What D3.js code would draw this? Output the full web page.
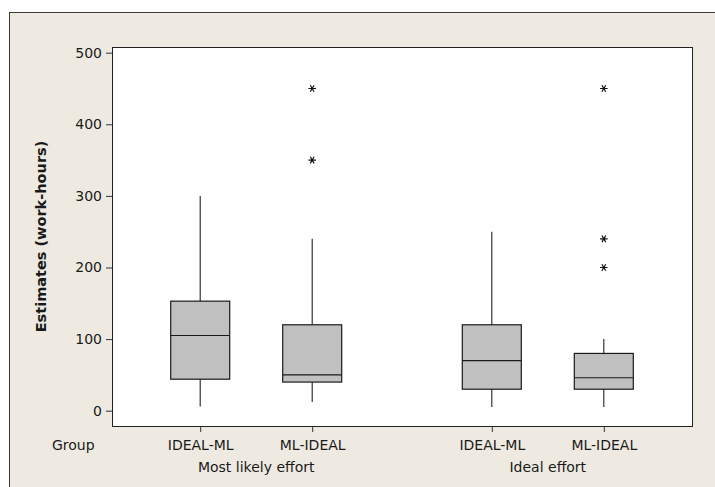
<!DOCTYPE html>
<html>
<head>
<meta charset="utf-8">
<script src="https://cdn.jsdelivr.net/npm/d3@7"></script>
<style>
  html, body { margin: 0; padding: 0; background: #ffffff; }
  svg { display: block; }
  text { font-family: "DejaVu Sans", Verdana, sans-serif; fill: #1a1a1a; }
</style>
</head>
<body>
<svg id="chart" width="715" height="487"></svg>
<script>
// ---- data ----
const groups = ["Most likely effort", "Ideal effort"];
const subgroups = ["IDEAL-ML", "ML-IDEAL"];
// five-number summaries per box, ordered [group][subgroup]
const whiskerLow  = [[6, 12], [5, 5]];
const q1          = [[44, 40], [30, 30]];
const median      = [[105, 50], [70, 46]];
const q3          = [[153, 120], [120, 80]];
const whiskerHigh = [[300, 240], [250, 100]];
const outliers    = [[[], [350, 450]], [[], [200, 240, 450]]];
const yTicks = [0, 100, 200, 300, 400, 500];
const yTitle = "Estimates (work-hours)";
const xRowTitle = "Group";

// ---- layout ----
const W = 715, H = 487;
const plot = { left: 112, right: 692, top: 47, bottom: 426 };
const svg = d3.select("#chart");

// outer frame (panel)
svg.append("rect").attr("x", 9.5).attr("y", 12.5).attr("width", W).attr("height", H)
  .attr("fill", "#EEEAE1").attr("stroke", "#3a3a3a").attr("stroke-width", 1);

// plot area
svg.append("rect")
  .attr("x", plot.left + 0.5).attr("y", plot.top + 0.5)
  .attr("width", plot.right - plot.left).attr("height", plot.bottom - plot.top)
  .attr("fill", "#ffffff").attr("stroke", "#222").attr("stroke-width", 1);

// scales
const y = d3.scaleLinear().domain([0, 500]).range([410.7, 52.7]);
const xGroup = d3.scalePoint().domain(groups).range([plot.left, plot.right]).padding(0.4945);
const xSub = d3.scalePoint().domain(subgroups).range([-112, 112]).padding(0.5);
const boxW = 59;

const boxes = [];
groups.forEach((g, gi) => subgroups.forEach((s, si) => {
  boxes.push({
    key: s + "|" + g, group: g, sub: s,
    x: xGroup(g) + xSub(s),
    lo: whiskerLow[gi][si], q1: q1[gi][si], med: median[gi][si],
    q3: q3[gi][si], hi: whiskerHigh[gi][si], out: outliers[gi][si]
  });
}));

// y axis
const yAxis = d3.axisLeft(y).tickValues(yTicks).tickSize(6).tickPadding(4).tickFormat(d3.format("d"));
const yg = svg.append("g").attr("transform", `translate(${plot.left},0)`).call(yAxis);
yg.select(".domain").remove();
yg.selectAll(".tick line").attr("stroke", "#333");
yg.selectAll("text").style("font-size", "14px").attr("fill", "#1a1a1a")
  .style("font-family", "'DejaVu Sans', Verdana, sans-serif");

// y title
svg.append("text")
  .attr("transform", `translate(46,${(plot.top + plot.bottom) / 2}) rotate(-90)`)
  .attr("text-anchor", "middle")
  .style("font-size", "14.5px").style("font-weight", "bold")
  .text(yTitle);

// x axis: categories
const xCat = d3.scaleOrdinal().domain(boxes.map(b => b.key)).range(boxes.map(b => b.x));
const xAxis = d3.axisBottom(xCat).tickSize(6).tickPadding(8).tickFormat(k => k.split("|")[0]);
const xg = svg.append("g").attr("transform", `translate(0,${plot.bottom})`).call(xAxis);
xg.select(".domain").remove();
xg.selectAll(".tick line").attr("stroke", "#333");
xg.selectAll("text").style("font-size", "14px").attr("fill", "#1a1a1a")
  .style("font-family", "'DejaVu Sans', Verdana, sans-serif");

// group labels
svg.append("g").selectAll("text").data(groups).join("text")
  .attr("x", d => xGroup(d)).attr("y", 472)
  .attr("text-anchor", "middle").style("font-size", "14px").text(d => d);

// row title
svg.append("text").attr("x", 52).attr("y", 450).style("font-size", "14px").text(xRowTitle);

// boxes
const bg = svg.append("g").selectAll("g").data(boxes).join("g");
bg.append("line").attr("x1", d => d.x).attr("x2", d => d.x)
  .attr("y1", d => y(d.hi)).attr("y2", d => y(d.q3)).attr("stroke", "#222").attr("stroke-width", 1.1);
bg.append("line").attr("x1", d => d.x).attr("x2", d => d.x)
  .attr("y1", d => y(d.q1)).attr("y2", d => y(d.lo)).attr("stroke", "#222").attr("stroke-width", 1.1);
bg.append("rect")
  .attr("x", d => d.x - boxW / 2).attr("width", boxW)
  .attr("y", d => y(d.q3)).attr("height", d => y(d.q1) - y(d.q3))
  .attr("fill", "#C0C0C0").attr("stroke", "#1a1a1a").attr("stroke-width", 1.2);
bg.append("line")
  .attr("x1", d => d.x - boxW / 2).attr("x2", d => d.x + boxW / 2)
  .attr("y1", d => y(d.med)).attr("y2", d => y(d.med))
  .attr("stroke", "#1a1a1a").attr("stroke-width", 1.2);

// outliers
const star = d3.symbol().type(d3.symbolAsterisk).size(40);
bg.each(function(d) {
  d3.select(this).selectAll("path.out").data(d.out).join("path")
    .attr("class", "out")
    .attr("transform", v => `translate(${d.x},${y(v)}) rotate(90)`)
    .attr("d", star).attr("fill", "none").attr("stroke", "#111").attr("stroke-width", 1.2);
});
</script>
</body>
</html>
